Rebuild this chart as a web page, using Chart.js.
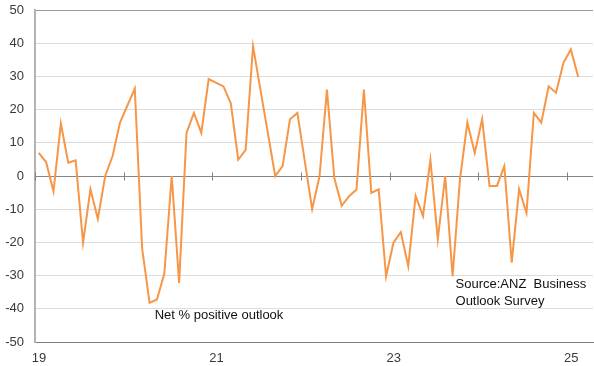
<!DOCTYPE html>
<html>
<head>
<meta charset="UTF-8">
<title>ANZ Business Outlook</title>
<script src="https://cdn.jsdelivr.net/npm/chart.js"></script>
<style>
  html, body { margin: 0; padding: 0; background: #fff; }
</style>
</head>
<body>
<canvas id="outlookChart" width="594" height="366"></canvas>
<script>
// monthly, Jan 2019 .. Feb 2025 (no January survey in 2020-2022)
const months = [
  '2019-01','2019-02','2019-03','2019-04','2019-05','2019-06','2019-07','2019-08','2019-09','2019-10','2019-11','2019-12',
  '2020-01','2020-02','2020-03','2020-04','2020-05','2020-06','2020-07','2020-08','2020-09','2020-10','2020-11','2020-12',
  '2021-01','2021-02','2021-03','2021-04','2021-05','2021-06','2021-07','2021-08','2021-09','2021-10','2021-11','2021-12',
  '2022-01','2022-02','2022-03','2022-04','2022-05','2022-06','2022-07','2022-08','2022-09','2022-10','2022-11','2022-12',
  '2023-01','2023-02','2023-03','2023-04','2023-05','2023-06','2023-07','2023-08','2023-09','2023-10','2023-11','2023-12',
  '2024-01','2024-02','2024-03','2024-04','2024-05','2024-06','2024-07','2024-08','2024-09','2024-10','2024-11','2024-12',
  '2025-01','2025-02'
];
const outlook = [
  7, 4.2, -4.6, 15.8, 4, 4.7, -20.1, -4, -12.9, 0, 6, 16.1,
  null, 26.3, -21.9, -38.2, -37.2, -29.4, 0, -32.2, 13, 19, 13, 29.2,
  null, 27, 21.8, 4.9, 7.9, 39.1, 26, 13, 0, 3, 17.1, 19,
  null, -10, 0, 26, -0.6, -9, -6.1, -4.1, 26, -5.1, -4, -30.2,
  -20.1, -16.9, -27.2, -6, -12.1, 4.9, -19.1, 0, -30.2, -1, 16.1, 6.9,
  17.1, -3, -3, 3, -26.1, -4, -11.1, 19, 16.1, 27, 25.1, 34.1,
  38.1, 29.8
];
const yearLabels = ['19', '20', '21', '22', '23', '24', '25'];
const seriesLabel = 'Net % positive outlook';
const sourceLines = ['Source:ANZ  Business', 'Outlook Survey'];

Chart.defaults.font.family = '"Liberation Sans", Arial, sans-serif';
Chart.defaults.font.size = 13;
Chart.defaults.color = '#3a3a3a';

// small year ticks sitting on the zero line
const zeroTicks = {
  id: 'zeroTicks',
  beforeDatasetsDraw(chart) {
    const { ctx, scales: { x, y } } = chart;
    const y0 = Math.round(y.getPixelForValue(0)) + 0.5;
    ctx.save();
    ctx.strokeStyle = '#7f7f7f';
    ctx.lineWidth = 1;
    yearLabels.forEach((lbl, k) => {
      const px = Math.round(x.getPixelForValue(-0.5 + 12 * k)) + 0.5;
      ctx.beginPath();
      ctx.moveTo(px, y0 - 4);
      ctx.lineTo(px, y0 + 4);
      ctx.stroke();
    });
    ctx.restore();
  }
};

// text notes inside the plot
const notes = {
  id: 'notes',
  afterDraw(chart) {
    const { ctx, scales: { x, y } } = chart;
    ctx.save();
    ctx.font = '13px "Liberation Sans", Arial, sans-serif';
    ctx.fillStyle = '#111';
    ctx.textAlign = 'left';
    ctx.textBaseline = 'middle';
    ctx.fillText(seriesLabel, x.getPixelForValue(15.7), y.getPixelForValue(-41.9));
    ctx.fillText(sourceLines[0], x.getPixelForValue(56.4), y.getPixelForValue(-32.8));
    ctx.fillText(sourceLines[1], x.getPixelForValue(56.4), y.getPixelForValue(-37.7));
    ctx.restore();
  }
};

new Chart(document.getElementById('outlookChart'), {
  type: 'line',
  data: {
    labels: months,
    datasets: [{
      label: seriesLabel,
      data: outlook.map((v, i) => ({ x: i, y: v })),
      borderColor: '#f79646',
      borderWidth: 2,
      pointRadius: 0,
      tension: 0,
      spanGaps: true
    }]
  },
  options: {
    responsive: false,
    animation: false,
    devicePixelRatio: 1,
    layout: { padding: { top: 10, right: 1, left: 0, bottom: 0 } },
    plugins: {
      legend: { display: false },
      tooltip: { enabled: false }
    },
    scales: {
      x: {
        type: 'linear',
        min: -0.5,
        max: 75,
        afterBuildTicks: (scale) => {
          scale.ticks = yearLabels.map((lbl, k) => ({ value: -0.5 + 12 * k }));
        },
        afterFit: (scale) => {
          scale.height = 24;
          scale.paddingLeft = 0;
          scale.paddingRight = 0;
        },
        ticks: {
          autoSkip: false,
          maxRotation: 0,
          labelOffset: 4,
          padding: 9,
          callback: (value, idx) => (idx % 2 === 0 ? yearLabels[idx] : '')
        },
        grid: { display: false, drawTicks: false },
        border: { color: '#7f7f7f', width: 1 }
      },
      y: {
        min: -50,
        max: 50,
        afterFit: (scale) => {
          scale.width = 35;
          scale.paddingTop = 0;
          scale.paddingBottom = 0;
        },
        ticks: { stepSize: 10, padding: 11 },
        grid: {
          drawTicks: false,
          color: (c) => {
            if (!c.tick) return '#dcdcdc';
            if (c.tick.value === 0) return '#858585';
            if (c.tick.value === 50) return '#9a9a9a';
            if (c.tick.value === -50) return '#7f7f7f';
            return '#dcdcdc';
          }
        },
        border: { color: '#b3b3b3', width: 2 }
      }
    }
  },
  plugins: [zeroTicks, notes]
});
</script>
</body>
</html>
